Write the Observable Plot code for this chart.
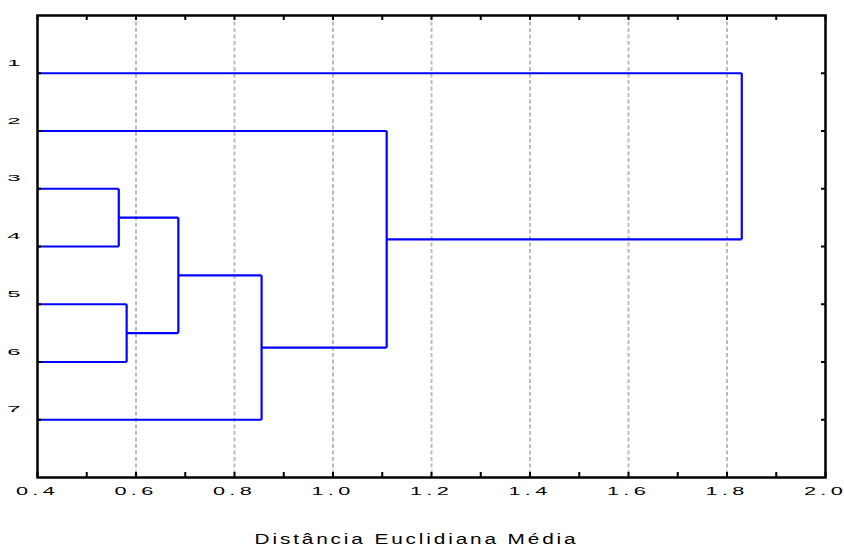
<!DOCTYPE html>
<html><head><meta charset="utf-8">
<script src="https://cdn.jsdelivr.net/npm/d3@7"></script>
<script src="https://cdn.jsdelivr.net/npm/@observablehq/plot@0.6"></script>
<style>body{margin:0;background:#fff;}</style>
</head><body><div id="chart"></div>
<script>
const leaves = ["1","2","3","4","5","6","7"];
const mergeLeft = [3, 5, 8, 10, 2, 1];
const mergeRight = [4, 6, 9, 7, 11, 12];
const mergeHeight = [0.565, 0.581, 0.686, 0.855, 1.109, 1.830];
const xTickValues = [0.4, 0.6, 0.8, 1.0, 1.2, 1.4, 1.6, 1.8, 2.0];
const xTickLabels = ["0.4", "0.6", "0.8", "1.0", "1.2", "1.4", "1.6", "1.8", "2.0"];
const xMinorTicks = [0.4, 0.5, 0.6, 0.7, 0.8, 0.9, 1.0, 1.1, 1.2, 1.3, 1.4, 1.5, 1.6, 1.7, 1.8, 1.9, 2.0];
const gridValues = [0.6, 0.8, 1.0, 1.2, 1.4, 1.6, 1.8];
const xDomain = [0.4, 2.0];
const yDomain = [0, 8];
const axisTitle = "Distância Euclidiana Média";

// dendrogram node positions (leaves at the left edge, merges at their height, y = mean of children)
const nodeX = {}, nodeY = {};
leaves.forEach((l, i) => { nodeX[i + 1] = xDomain[0]; nodeY[i + 1] = i + 1; });
const segs = [];
mergeHeight.forEach((h, i) => {
  const id = leaves.length + 1 + i, a = mergeLeft[i], b = mergeRight[i];
  segs.push({x1: nodeX[a], y1: nodeY[a], x2: h, y2: nodeY[a]});
  segs.push({x1: nodeX[b], y1: nodeY[b], x2: h, y2: nodeY[b]});
  segs.push({x1: h, y1: nodeY[a], x2: h, y2: nodeY[b]});
  nodeX[id] = h; nodeY[id] = (nodeY[a] + nodeY[b]) / 2;
});

const plot = Plot.plot({
  width: 844, height: 548,
  marginLeft: 37, marginRight: 19, marginTop: 15, marginBottom: 71,
  x: {domain: xDomain, axis: null},
  y: {domain: yDomain, reverse: true, axis: null},
  style: {fontFamily: "'Liberation Sans', Arial, sans-serif", background: "#fff", overflow: "visible"},
  marks: [
    Plot.ruleX(gridValues, {x: d => d, stroke: "#bcbcbc", strokeWidth: 2, strokeDasharray: "4,2.5"}),
    Plot.link(segs, {x1: "x1", y1: "y1", x2: "x2", y2: "y2", stroke: "#0000ff", strokeWidth: 2.2}),
    Plot.ruleX(xMinorTicks, {x: d => d, insetTop: 457, stroke: "#000", strokeWidth: 2}),
    Plot.ruleX(xMinorTicks, {x: d => d, insetBottom: 457, stroke: "#000", strokeWidth: 2}),
    Plot.ruleY(leaves, {y: (d, i) => i + 1, insetRight: 784, stroke: "#000", strokeWidth: 2}),
    Plot.ruleY(leaves, {y: (d, i) => i + 1, insetLeft: 784, stroke: "#000", strokeWidth: 2}),
    Plot.frame({stroke: "#000", strokeWidth: 2.5}),
    Plot.text(xTickLabels, {x: (d, i) => xTickValues[i], text: d => d, frameAnchor: "bottom", dy: 17,
      fontSize: 14, fill: "#000"}),
    Plot.text(leaves, {x: () => xDomain[0], y: (d, i) => i + 1, text: d => d, dx: -23, dy: -10,
      fontSize: 12, fill: "#000"}),
    Plot.text([axisTitle], {text: d => d, frameAnchor: "bottom", dx: -15, dy: 66,
      fontSize: 16, fill: "#000"})
  ]
});

function squashText(el, sx, sy, ls) {
  const t = el.getAttribute("transform");
  if (t) el.setAttribute("transform", t + ` scale(${sx},${sy})`);
  else {
    const x = +el.getAttribute("x") || 0, y = +el.getAttribute("y") || 0;
    el.removeAttribute("x"); el.removeAttribute("y");
    el.setAttribute("transform", `translate(${x},${y}) scale(${sx},${sy})`);
  }
  el.setAttribute("letter-spacing", ls);
}
d3.select(plot).selectAll("text").each(function() {
  const s = this.textContent;
  if (xTickLabels.includes(s)) squashText(this, 1.55, 0.8, 2.8);
  else if (leaves.includes(s)) squashText(this, 2.0, 0.7, 0.5);
  else if (s === axisTitle) squashText(this, 1.3, 0.9, 2.2);
});

document.getElementById("chart").appendChild(plot);
</script>
</body></html>
